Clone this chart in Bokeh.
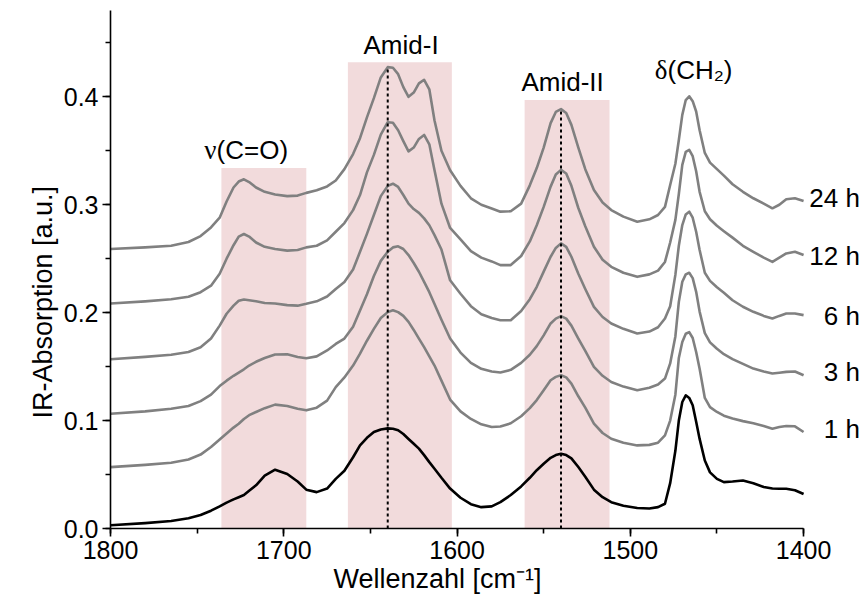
from bokeh.plotting import figure
from bokeh.models import Range1d, PrintfTickFormatter, SingleIntervalTicker, Title
from bokeh.core.properties import value
from bokeh.embed import file_html
from bokeh.resources import INLINE

wavenumber = [1800, 1780, 1765, 1755, 1748, 1742, 1737, 1733, 1729, 1726,
              1723, 1720, 1716, 1711, 1705, 1698, 1692, 1687, 1681, 1675,
              1670, 1665, 1660, 1656, 1652, 1648, 1644, 1640, 1637, 1634,
              1631, 1628, 1625, 1622, 1619, 1616, 1613, 1609, 1604, 1598,
              1592, 1586, 1580, 1575, 1569, 1563, 1558, 1554, 1550, 1546,
              1543, 1540, 1537, 1534, 1530, 1526, 1521, 1516, 1511, 1504,
              1496, 1489, 1484, 1480, 1477, 1474, 1472, 1470, 1468, 1466,
              1464, 1462, 1460, 1457, 1454, 1450, 1446, 1441, 1435, 1429,
              1423, 1418, 1414, 1410, 1405, 1400]

absorb_24h = [0.259, 0.2605, 0.262, 0.2655, 0.271, 0.279, 0.288, 0.303, 0.316, 0.3215,
              0.3236, 0.321, 0.316, 0.312, 0.3095, 0.308, 0.3085, 0.311, 0.3135, 0.317,
              0.3225, 0.333, 0.347, 0.3617, 0.381, 0.3988, 0.418, 0.4275, 0.427, 0.421,
              0.409, 0.400, 0.404, 0.4125, 0.4158, 0.407, 0.378, 0.350, 0.332, 0.3175,
              0.306, 0.300, 0.2965, 0.2936, 0.294, 0.301, 0.318, 0.334, 0.353, 0.3756,
              0.386, 0.3886, 0.385, 0.374, 0.353, 0.333, 0.3137, 0.302, 0.2951, 0.289,
              0.2843, 0.2865, 0.2905, 0.298, 0.3183, 0.338, 0.360, 0.3833, 0.397, 0.4005,
              0.396, 0.3864, 0.369, 0.348, 0.339, 0.333, 0.327, 0.319, 0.312, 0.306,
              0.301, 0.2967, 0.300, 0.3051, 0.306, 0.3035]

absorb_12h = [0.2085, 0.2105, 0.2125, 0.2147, 0.219, 0.225, 0.236, 0.250, 0.2625, 0.2705,
              0.2729, 0.2705, 0.265, 0.261, 0.259, 0.2575, 0.258, 0.2605, 0.262, 0.267,
              0.275, 0.283, 0.295, 0.309, 0.330, 0.3462, 0.365, 0.3765, 0.376, 0.369,
              0.359, 0.3495, 0.353, 0.361, 0.3647, 0.356, 0.332, 0.301, 0.2785, 0.268,
              0.257, 0.251, 0.2475, 0.2441, 0.2441, 0.2525, 0.266, 0.281, 0.298, 0.3168,
              0.328, 0.3323, 0.329, 0.3175, 0.297, 0.280, 0.2611, 0.249, 0.2425, 0.237,
              0.2332, 0.2355, 0.239, 0.247, 0.265, 0.286, 0.310, 0.337, 0.349, 0.3508,
              0.345, 0.331, 0.312, 0.294, 0.2865, 0.2805, 0.2755, 0.2695, 0.262, 0.2564,
              0.251, 0.2471, 0.251, 0.2549, 0.2564, 0.2534]

absorb_6h = [0.1568, 0.159, 0.161, 0.1636, 0.168, 0.176, 0.188, 0.199, 0.2065, 0.211,
             0.2122, 0.2115, 0.2105, 0.209, 0.2085, 0.207, 0.2065, 0.2082, 0.2105, 0.215,
             0.222, 0.2285, 0.240, 0.2564, 0.273, 0.2905, 0.308, 0.3175, 0.3195, 0.3165,
             0.309, 0.301, 0.296, 0.2925, 0.2874, 0.281, 0.2719, 0.2585, 0.230, 0.2175,
             0.206, 0.1985, 0.195, 0.193, 0.193, 0.2015, 0.2125, 0.224, 0.238, 0.2518,
             0.260, 0.2642, 0.261, 0.2518, 0.236, 0.222, 0.2054, 0.196, 0.190, 0.185,
             0.1807, 0.1825, 0.1865, 0.1946, 0.206, 0.235, 0.262, 0.2812, 0.291, 0.2936,
             0.288, 0.275, 0.258, 0.237, 0.2295, 0.2235, 0.2185, 0.2115, 0.2055, 0.2008,
             0.197, 0.1946, 0.197, 0.1992, 0.1992, 0.1977]

absorb_3h = [0.1064, 0.1085, 0.111, 0.1135, 0.118, 0.124, 0.132, 0.137, 0.1415, 0.1445,
             0.1475, 0.151, 0.1545, 0.158, 0.1612, 0.1615, 0.159, 0.1578, 0.1595, 0.165,
             0.171, 0.176, 0.187, 0.202, 0.217, 0.234, 0.248, 0.2565, 0.2605, 0.2615,
             0.259, 0.2534, 0.246, 0.2379, 0.2286, 0.219, 0.208, 0.1935, 0.176, 0.163,
             0.1535, 0.148, 0.1455, 0.1445, 0.147, 0.1535, 0.161, 0.169, 0.179, 0.190,
             0.1945, 0.1968, 0.1945, 0.188, 0.176, 0.1645, 0.1497, 0.1415, 0.1358, 0.1315,
             0.1281, 0.1305, 0.1335, 0.1389, 0.153, 0.178, 0.210, 0.2286, 0.2355, 0.237,
             0.232, 0.2193, 0.201, 0.181, 0.1725, 0.1665, 0.1615, 0.157, 0.1525, 0.1482,
             0.1455, 0.1436, 0.1443, 0.1451, 0.1455, 0.142]

absorb_1h = [0.0569, 0.059, 0.061, 0.064, 0.0685, 0.0755, 0.0825, 0.088, 0.0935, 0.097,
             0.1015, 0.105, 0.108, 0.1115, 0.1148, 0.1135, 0.111, 0.1095, 0.112, 0.1185,
             0.131, 0.140, 0.151, 0.162, 0.174, 0.185, 0.195, 0.2005, 0.2023, 0.2005,
             0.197, 0.1915, 0.184, 0.176, 0.168, 0.1595, 0.151, 0.137, 0.1195, 0.1085,
             0.1015, 0.0965, 0.094, 0.0945, 0.0975, 0.104, 0.1115, 0.119, 0.128, 0.1374,
             0.1405, 0.142, 0.140, 0.1343, 0.1225, 0.112, 0.0972, 0.0885, 0.0832, 0.0795,
             0.077, 0.0775, 0.0795, 0.0863, 0.100, 0.124, 0.158, 0.1729, 0.1805, 0.182,
             0.1765, 0.1636, 0.148, 0.121, 0.1125, 0.108, 0.1045, 0.102, 0.0995, 0.0975,
             0.095, 0.0925, 0.094, 0.095, 0.0947, 0.0894]

absorb_0h = [0.003, 0.005, 0.007, 0.0095, 0.0125, 0.0165, 0.0205, 0.024, 0.027, 0.029,
             0.031, 0.035, 0.040, 0.049, 0.0545, 0.0505, 0.0435, 0.036, 0.0337, 0.037,
             0.046, 0.0535, 0.066, 0.077, 0.084, 0.0894, 0.0918, 0.0928, 0.0925, 0.091,
             0.0875, 0.083, 0.0785, 0.074, 0.068, 0.0615, 0.0554, 0.047, 0.037, 0.0285,
             0.0225, 0.0198, 0.0205, 0.0244, 0.031, 0.039, 0.047, 0.054, 0.060, 0.0655,
             0.068, 0.0693, 0.068, 0.065, 0.057, 0.048, 0.036, 0.029, 0.0244, 0.021,
             0.019, 0.0185, 0.0198, 0.0229, 0.042, 0.072, 0.100, 0.1172, 0.1234, 0.121,
             0.1142, 0.099, 0.083, 0.063, 0.052, 0.046, 0.043, 0.0435, 0.0445, 0.042,
             0.0385, 0.037, 0.0368, 0.0368, 0.0355, 0.032]

time_labels = ["1 h", "3 h", "6 h", "12 h", "24 h"]

band_left = [1736, 1663, 1561]
band_right = [1687, 1603, 1512]
band_top = [0.334, 0.432, 0.397]
band_greek = ["ν", "", ""]
band_names = ["(C=O)", "Amid-I", "Amid-II"]

dash_x = [1640, 1540]
dash_top = [0.428, 0.389]

x_title = "Wellenzahl [cm⁻¹]"
y_title = "IR-Absorption [a.u.]"

FONT = "Liberation Sans"
GREEK_FONT = "Liberation Serif"

p = figure(width=864, height=606, x_range=Range1d(1800, 1366), y_range=Range1d(0, 0.48),
           output_backend="svg", toolbar_location=None,
           min_border_left=110, min_border_right=2, min_border_top=10, min_border_bottom=78)
p.outline_line_color = None
p.xgrid.visible = False
p.ygrid.visible = False
p.background_fill_color = "white"
p.border_fill_color = "white"

# shaded bands
p.quad(left=band_left, right=band_right, bottom=[0, 0, 0], top=band_top,
       fill_color="#f2dbdc", line_color=None)

# spectra
gray_series = [absorb_1h, absorb_3h, absorb_6h, absorb_12h, absorb_24h]
for ys in gray_series:
    p.line(wavenumber, ys, line_color="#808080", line_width=2.6, line_join="round")
p.line(wavenumber, absorb_0h, line_color="black", line_width=2.6, line_join="round")

# dashed marker lines
p.segment(x0=dash_x, y0=[0, 0], x1=dash_x, y1=dash_top,
          line_color="black", line_width=2, line_dash="3 3")

# band annotations
p.text(x=[1738.8], y=[0.351], text=[band_greek[0]],
       text_align="right", text_baseline="middle",
       text_font=value(GREEK_FONT), text_font_size="27px", text_color="black")
p.text(x=[1738.8], y=[0.351], text=[band_names[0]],
       text_align="left", text_baseline="middle",
       text_font=value(FONT), text_font_size="26px", text_color="black")
p.text(x=[1632.3, 1539.1], y=[0.4476, 0.4135], text=band_names[1:],
       text_align="center", text_baseline="middle",
       text_font=value(FONT), text_font_size="26px", text_color="black")
p.text(x=[1478.5], y=[0.4245], text=["δ"],
       text_align="right", text_baseline="middle",
       text_font=value(GREEK_FONT), text_font_size="27px", text_color="black")
p.text(x=[1478.5], y=[0.4245], text=["(CH₂)"],
       text_align="left", text_baseline="middle",
       text_font=value(FONT), text_font_size="26px", text_color="black")

# time labels (right of the curves)
label_y = [0.0925, 0.145, 0.1972, 0.2529, 0.306]
p.text(x=[1367.5] * len(time_labels), y=label_y, text=time_labels,
       text_align="right", text_baseline="middle",
       text_font=value(FONT), text_font_size="26px", text_color="black")

for ax in (p.xaxis[0], p.yaxis[0]):
    ax.axis_line_width = 1.6
    ax.axis_line_color = "black"
    ax.major_tick_in = 0
    ax.major_tick_out = 8
    ax.minor_tick_in = 0
    ax.minor_tick_out = 5
    ax.major_tick_line_width = 1.6
    ax.minor_tick_line_width = 1.6
    ax.major_label_text_font = FONT
    ax.major_label_text_font_size = "25px"
    ax.major_label_text_color = "black"

p.xaxis.bounds = (1400, 1800)
p.xaxis.ticker = SingleIntervalTicker(interval=100, num_minor_ticks=2)
p.yaxis.ticker = SingleIntervalTicker(interval=0.1, num_minor_ticks=2)
p.yaxis.formatter = PrintfTickFormatter(format="%.1f")
p.xaxis.major_label_standoff = 4
p.yaxis.major_label_standoff = 4

# axis titles placed as side titles so they can be positioned like the original
xt = Title(text=x_title, align="left", offset=223, text_font=FONT, text_font_size="27px",
           text_font_style="normal", text_color="black", standoff=0)
p.add_layout(xt, "below")
yt = Title(text=y_title, align="left", offset=110, text_font=FONT, text_font_size="27px",
           text_font_style="normal", text_color="black", standoff=6)
p.add_layout(yt, "left")

open("out.html", "w").write(file_html(p, INLINE))
